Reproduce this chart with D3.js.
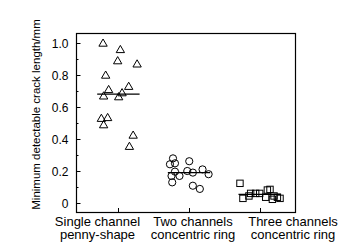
<!DOCTYPE html>
<html>
<head>
<meta charset="utf-8">
<script src="https://cdn.jsdelivr.net/npm/d3@7"></script>
<style>
  body { margin: 0; background: #fff; }
  text { font-family: Arial, "Liberation Sans", sans-serif; fill: #000; }
</style>
</head>
<body>
<svg id="chart" width="349" height="252"></svg>
<script>
// categories (two text lines each)
const categories = [
  ["Single channel", "penny-shape"],
  ["Two channels", "concentric ring"],
  ["Three channels", "concentric ring"]
];

// points: [x position incl. jitter, crack length in mm]
const singleChannel = [
  [0.783, 1.0], [1.028, 0.96], [0.990, 0.89], [1.265, 0.87], [0.820, 0.80],
  [1.146, 0.73], [0.862, 0.71], [1.052, 0.69], [0.791, 0.67], [1.004, 0.665],
  [0.759, 0.53], [0.848, 0.535], [0.791, 0.49], [1.209, 0.425], [1.156, 0.355]
];
const twoChannels = [
  [1.773, 0.279], [1.730, 0.242], [1.801, 0.248], [2.003, 0.261], [1.801, 0.196],
  [1.975, 0.200], [2.054, 0.190], [2.191, 0.210], [2.277, 0.180], [1.752, 0.169],
  [1.865, 0.169], [1.762, 0.129], [2.054, 0.108], [2.153, 0.088]
];
const threeChannels = [
  [2.721, 0.123], [2.763, 0.029], [2.848, 0.044], [2.872, 0.060], [2.943, 0.060],
  [3.000, 0.060], [3.085, 0.036], [3.109, 0.081], [3.146, 0.085], [3.180, 0.023],
  [3.203, 0.044], [3.251, 0.036], [3.288, 0.029]
];

// horizontal mean lines
const meanValues = [0.68, 0.19, 0.054];

const yTickLabels = ["0", "0.2", "0.4", "0.6", "0.8", "1.0"];
const yMajor = [0, 0.2, 0.4, 0.6, 0.8, 1.0];
const yMinor = [0.1, 0.3, 0.5, 0.7, 0.9];

const svg = d3.select("#chart");

const mLeft = 76, mRight = 295, mTop = 33, mBottom = 212;
// the category labels are not centred on the ticks in the original
const labelX = [97.5, 193, 293];

const x = d3.scaleLinear().domain([0.4, 3.5]).range([mLeft, mRight]);
const y = d3.scaleLinear().domain([-0.05625, 1.0625]).range([mBottom, mTop]);

// y axis, ticks inward
const yAxis = d3.axisLeft(y).tickValues(yMajor)
  .tickFormat((d, i) => yTickLabels[i])
  .tickSize(-4).tickPadding(8);
const gy = svg.append("g").attr("transform", `translate(${mLeft + 0.5},0)`).call(yAxis);
gy.select(".domain").remove();
gy.selectAll("text").style("font-size", "12px").attr("dy", "0.35em");
gy.selectAll("line").attr("stroke", "#000");

svg.append("g").selectAll("line").data(yMinor).join("line")
  .attr("x1", mLeft).attr("x2", mLeft + 2.5)
  .attr("y1", d => Math.round(y(d)) + 0.5).attr("y2", d => Math.round(y(d)) + 0.5)
  .attr("stroke", "#000");

// x axis ticks inward
svg.append("g").selectAll("line").data(categories).join("line")
  .attr("x1", (d, i) => Math.round(x(i + 1)) + 0.5)
  .attr("x2", (d, i) => Math.round(x(i + 1)) + 0.5)
  .attr("y1", mBottom).attr("y2", mBottom - 4)
  .attr("stroke", "#000");

// x labels
const xl = svg.append("g").selectAll("text").data(categories).join("text")
  .attr("text-anchor", "middle")
  .style("font-size", "13px");
xl.append("tspan").attr("x", (d, i) => labelX[i]).attr("y", 226).text(d => d[0]);
xl.append("tspan").attr("x", (d, i) => labelX[i]).attr("y", 238.5).text(d => d[1]);

// frame
svg.append("rect")
  .attr("x", mLeft + 0.5).attr("y", mTop + 0.5)
  .attr("width", mRight - mLeft).attr("height", mBottom - mTop)
  .attr("fill", "none").attr("stroke", "#000").attr("stroke-width", 1.2);

// y title
svg.append("text")
  .attr("transform", "translate(40,114.5) rotate(-90)")
  .attr("text-anchor", "middle")
  .style("font-size", "11.5px")
  .text("Minimum detectable crack length/mm");

// mean lines
svg.append("g").selectAll("line").data(meanValues).join("line")
  .attr("x1", (d, i) => x(i + 1 - 0.3)).attr("x2", (d, i) => x(i + 1 + 0.3))
  .attr("y1", d => y(d)).attr("y2", d => y(d))
  .attr("stroke", "#000").attr("stroke-width", 1.2);

const marks = svg.append("g").attr("fill", "none").attr("stroke", "#000").attr("stroke-width", 1);

marks.selectAll(".tri").data(singleChannel).join("path")
  .attr("d", d3.symbol(d3.symbolTriangle, 30))
  .attr("transform", d => `translate(${x(d[0])},${y(d[1]) + 0.8})`);

marks.selectAll(".circ").data(twoChannels).join("circle")
  .attr("cx", d => x(d[0])).attr("cy", d => y(d[1])).attr("r", 3.6);

marks.selectAll(".sq").data(threeChannels).join("rect")
  .attr("x", d => x(d[0]) - 3.2).attr("y", d => y(d[1]) - 3.2)
  .attr("width", 6.4).attr("height", 6.4);
</script>
</body>
</html>
